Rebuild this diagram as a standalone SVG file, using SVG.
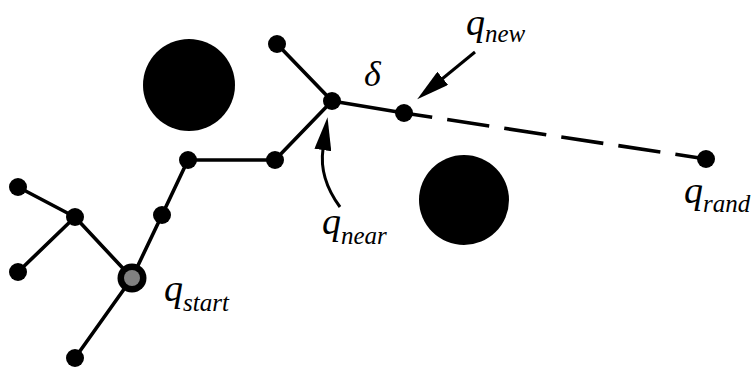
<svg xmlns="http://www.w3.org/2000/svg" width="751" height="368" viewBox="0 0 751 368">
<style>
.edge{stroke:#000;stroke-width:3.6;fill:none;stroke-linecap:round}
.dash{stroke:#000;stroke-width:3.6;fill:none;stroke-dasharray:42.5 15.2;stroke-dashoffset:14}
.arr{stroke:#000;stroke-width:3;fill:none}
.node{fill:#000}
.obs{fill:#000}
text{font-family:'Liberation Serif','DejaVu Serif',serif;font-style:italic;font-size:38px;fill:#000}
.sub{font-size:25px}
</style>
<defs>
<marker id="head" markerUnits="userSpaceOnUse" markerWidth="33" markerHeight="17" viewBox="0 0 33 17" refX="1" refY="8.5" orient="auto">
<path d="M0,0 L33,8.5 L0,17 z" fill="#000"/>
</marker>
</defs>
<rect width="751" height="368" fill="#fff"/>
<g id="obstacles">
<circle id="obstacle1" class="obs" cx="189" cy="85" r="46"/>
<circle id="obstacle2" class="obs" cx="464" cy="200" r="45"/>
</g>
<g id="connectors">
<line class="edge" x1="18" y1="187" x2="75" y2="217"/>
<line class="edge" x1="75" y1="217" x2="18" y2="272"/>
<line class="edge" x1="75" y1="217" x2="132" y2="278"/>
<line class="edge" x1="132" y1="278" x2="75" y2="358"/>
<line class="edge" x1="132" y1="278" x2="162" y2="215"/>
<line class="edge" x1="162" y1="215" x2="188" y2="160"/>
<line class="edge" x1="188" y1="160" x2="275" y2="160"/>
<line class="edge" x1="275" y1="160" x2="332" y2="101"/>
<line class="edge" x1="277" y1="44" x2="332" y2="101"/>
<line class="edge" x1="332" y1="101" x2="404" y2="113"/>
<line class="dash" x1="404" y1="113" x2="706" y2="159"/>
<line class="arr" x1="475" y1="52" x2="442" y2="79" marker-end="url(#head)"/>
<path class="arr" d="M340,207 C326,188 320,170 323,149" marker-end="url(#head)"/>
</g>
<g id="nodes">
<circle id="n1" class="node" cx="18" cy="187" r="9"/>
<circle id="n2" class="node" cx="75" cy="217" r="9"/>
<circle id="n3" class="node" cx="18" cy="272" r="9"/>
<circle id="n4" class="node" cx="75" cy="358" r="9"/>
<circle id="n5" class="node" cx="162" cy="215" r="9"/>
<circle id="n6" class="node" cx="188" cy="160" r="9"/>
<circle id="n7" class="node" cx="275" cy="160" r="9"/>
<circle id="n8" class="node" cx="277" cy="44" r="9"/>
<circle id="qnear" class="node" cx="332" cy="101" r="9"/>
<circle id="qnew" class="node" cx="404" cy="113" r="9"/>
<circle id="qrand" class="node" cx="706" cy="159" r="9"/>
<g id="qstart">
<circle cx="132" cy="278" r="14.5" fill="#000"/>
<circle cx="132" cy="278" r="8" fill="#808080"/>
</g>
</g>
<g id="labels">
<text x="466" y="35">q<tspan class="sub" dy="7">new</tspan></text>
<text x="364" y="86" style="font-size:36px">δ</text>
<text x="322" y="234">q<tspan class="sub" dy="10">near</tspan></text>
<text x="684" y="203">q<tspan class="sub" dy="9">rand</tspan></text>
<text x="164" y="301">q<tspan class="sub" dy="10">start</tspan></text>
</g>
</svg>
